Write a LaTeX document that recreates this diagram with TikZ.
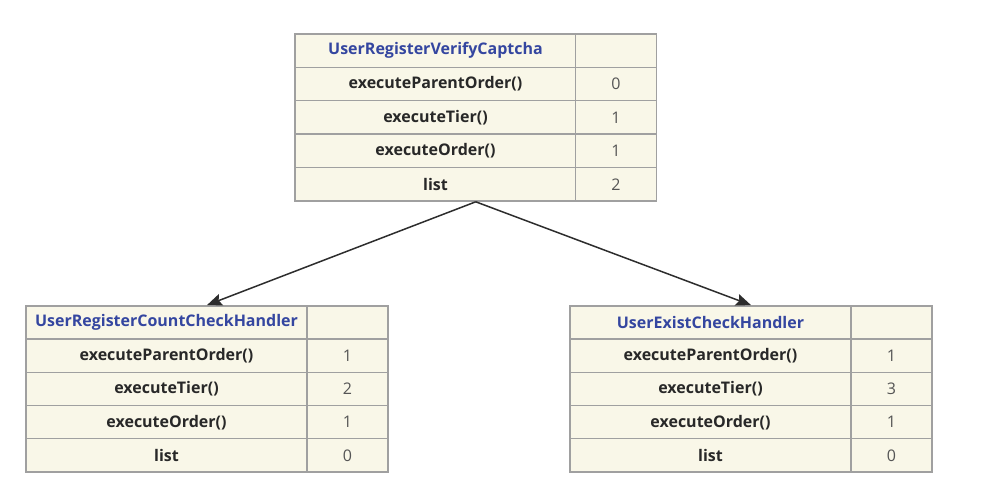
\documentclass[tikz,border=0pt]{standalone}
\usepackage{fontspec}
\setmainfont{Open Sans}
\usepackage{tikz}
\usetikzlibrary{arrows.meta,fit}

\definecolor{cellfill}{RGB}{249,247,232}
\definecolor{cellline}{RGB}{160,160,160}
\definecolor{headblue}{RGB}{52,70,160}
\definecolor{bodytext}{RGB}{40,40,40}
\definecolor{numtext}{RGB}{85,85,85}
\definecolor{linkline}{RGB}{45,45,45}

\tikzset{
  cell/.style={draw=cellline, line width=1.3pt, fill=cellfill, inner sep=0pt,
    minimum height=33.3pt, font=\fontsize{16}{18}\selectfont},
  namecell/.style={cell, minimum width=281pt, text=bodytext, font=\fontsize{16}{18}\selectfont\bfseries},
  headcell/.style={namecell, text=headblue},
  valcell/.style={cell, minimum width=81pt, text=numtext},
  link/.style={draw=linkline, line width=1.5pt, -{Stealth[length=15pt,width=12pt,inset=2.5pt]}}
}

\begin{document}
\begin{tikzpicture}[x=1pt,y=-1pt]
\useasboundingbox (0,0) rectangle (988,502);

% top table
\node[headcell] (va1) at (435.5,50.7)  {UserRegisterVerifyCaptcha};
\node[valcell]  (vb1) at (616,50.7)    {};
\node[namecell] (va2) at (435.5,84.1)  {executeParentOrder()};
\node[valcell]  (vb2) at (616,84.1)    {0};
\node[namecell] (va3) at (435.5,117.5) {executeTier()};
\node[valcell]  (vb3) at (616,117.5)   {1};
\node[namecell] (va4) at (435.5,150.9) {executeOrder()};
\node[valcell]  (vb4) at (616,150.9)   {1};
\node[namecell] (va5) at (435.5,184.3) {list};
\node[valcell]  (vb5) at (616,184.3)   {2};
\node[fit=(va1)(vb5), inner sep=0pt] (verify) {};

% bottom left table
\node[headcell] (ca1) at (166.5,322.6) {UserRegisterCountCheckHandler};
\node[valcell]  (cb1) at (347.5,322.6) {};
\node[namecell] (ca2) at (166.5,355.8) {executeParentOrder()};
\node[valcell]  (cb2) at (347.5,355.8) {1};
\node[namecell] (ca3) at (166.5,389)   {executeTier()};
\node[valcell]  (cb3) at (347.5,389)   {2};
\node[namecell] (ca4) at (166.5,422.2) {executeOrder()};
\node[valcell]  (cb4) at (347.5,422.2) {1};
\node[namecell] (ca5) at (166.5,455.4) {list};
\node[valcell]  (cb5) at (347.5,455.4) {0};
\node[fit=(ca1)(cb5), inner sep=0pt] (count) {};

% bottom right table
\node[headcell] (ea1) at (710.5,322.6) {UserExistCheckHandler};
\node[valcell]  (eb1) at (891.5,322.6) {};
\node[namecell] (ea2) at (710.5,355.8) {executeParentOrder()};
\node[valcell]  (eb2) at (891.5,355.8) {1};
\node[namecell] (ea3) at (710.5,389)   {executeTier()};
\node[valcell]  (eb3) at (891.5,389)   {3};
\node[namecell] (ea4) at (710.5,422.2) {executeOrder()};
\node[valcell]  (eb4) at (891.5,422.2) {1};
\node[namecell] (ea5) at (710.5,455.4) {list};
\node[valcell]  (eb5) at (891.5,455.4) {0};
\node[fit=(ea1)(eb5), inner sep=0pt] (exist) {};

% links
\draw[link] (verify.south) -- (count.north);
\draw[link] (verify.south) -- (exist.north);
\end{tikzpicture}
\end{document}
